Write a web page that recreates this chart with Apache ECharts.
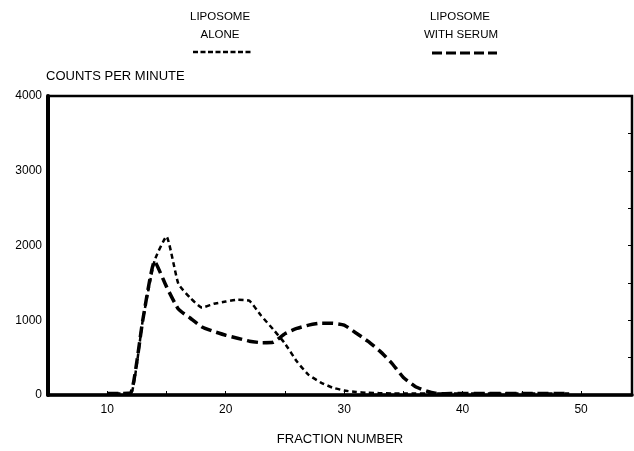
<!DOCTYPE html>
<html>
<head>
<meta charset="utf-8">
<script src="https://cdn.jsdelivr.net/npm/echarts@6/dist/echarts.min.js"></script>
<style>
  html, body { margin: 0; padding: 0; background: #fff; }
  #chart { width: 634px; height: 451px; }
</style>
</head>
<body>
<div id="chart"></div>
<script>
// fraction numbers
var fractions = [10, 11, 12, 13, 14, 15, 16, 17, 18, 19, 20, 21, 22, 23, 24, 25, 26, 27, 28, 29,
  30, 31, 32, 33, 34, 35, 36, 37, 38, 39, 40, 41, 42, 43, 44, 45, 46, 47, 48, 49];
// liposome alone (dotted)
var aloneCounts = [20, 20, 20, 1000, 1800, 2120, 1490, 1300, 1170, 1220, 1250, 1275, 1260, 1060, 880, 690, 450, 270, 170, 100,
  60, 40, 30, 25, 20, 20, 20, 20, 20, 20, 20, 20, 20, 20, 20, 20, 20, 20, 20, 20];
// liposome with serum (dashed)
var serumCounts = [20, 20, 30, 1000, 1790, 1450, 1150, 1030, 910, 850, 800, 760, 720, 700, 705, 820, 890, 935, 960, 960,
  935, 830, 720, 590, 430, 235, 115, 50, 15, 20, 20, 20, 20, 20, 20, 20, 20, 20, 20, 20];
var xTicks = [10, 20, 30, 40, 50];
var yTicks = [0, 1000, 2000, 3000, 4000];

var font = 'Liberation Sans, Arial, sans-serif';

function pairs(ys) {
  return fractions.map(function (f, i) { return [f, ys[i]]; });
}

var chart = echarts.init(document.getElementById('chart'), null, { renderer: 'canvas' });

var option = {
  backgroundColor: '#fff',
  animation: false,
  textStyle: { fontFamily: font, color: '#000' },
  grid: {
    left: 48, top: 96, right: 2, bottom: 52,
    show: true, borderColor: '#000', borderWidth: 2.5
  },
  xAxis: {
    type: 'value',
    min: 5, max: 54.3, interval: 5,
    name: 'FRACTION NUMBER',
    nameLocation: 'middle',
    nameGap: 38,
    nameTextStyle: { fontFamily: font, fontSize: 13, color: '#000' },
    splitLine: { show: false },
    axisLine: { lineStyle: { color: '#000', width: 3.5 } },
    axisTick: { inside: true, length: 4, lineStyle: { color: '#000', width: 1 } },
    axisLabel: {
      fontFamily: font, fontSize: 12, color: '#000', margin: 9,
      showMaxLabel: false,
      formatter: function (v) { return xTicks.indexOf(v) >= 0 ? v : ''; }
    }
  },
  yAxis: [{
    type: 'value',
    min: 0, max: 4000, interval: 500,
    name: 'COUNTS PER MINUTE',
    nameLocation: 'end',
    nameGap: 13,
    nameTextStyle: { fontFamily: font, fontSize: 13, color: '#000', align: 'left', padding: [0, 0, 0, -2] },
    splitLine: { show: false },
    axisLine: { show: true, lineStyle: { color: '#000', width: 4 } },
    axisTick: { show: false },
    axisLabel: {
      fontFamily: font, fontSize: 12, color: '#000', margin: 6,
      formatter: function (v) { return yTicks.indexOf(v) >= 0 ? v : ''; }
    }
  }, {
    type: 'value',
    position: 'right',
    min: 0, max: 4000, interval: 500,
    splitLine: { show: false },
    axisLine: { show: false },
    axisTick: { show: true, inside: true, length: 4, lineStyle: { color: '#000', width: 1 } },
    axisLabel: { show: false }
  }],
  graphic: [
    { type: 'text', left: 190, top: 11, style: { text: 'LIPOSOME', fontFamily: font, fontSize: 11.5, fill: '#000', width: 62, align: 'center' } },
    { type: 'text', x: 220, y: 35, style: { text: 'ALONE', fontFamily: font, fontSize: 11.5, fill: '#000', align: 'center', verticalAlign: 'middle' } },
    { type: 'line', shape: { x1: 193, y1: 52, x2: 253, y2: 52 }, style: { stroke: '#000', lineWidth: 2.5, lineDash: [5, 2.5] } },
    { type: 'text', x: 460, y: 17, style: { text: 'LIPOSOME', fontFamily: font, fontSize: 11.5, fill: '#000', align: 'center', verticalAlign: 'middle' } },
    { type: 'text', x: 461, y: 35, style: { text: 'WITH SERUM', fontFamily: font, fontSize: 11.5, fill: '#000', align: 'center', verticalAlign: 'middle' } },
    { type: 'line', shape: { x1: 432, y1: 53, x2: 497, y2: 53 }, style: { stroke: '#000', lineWidth: 3, lineDash: [10, 4] } }
  ],
  series: [{
    name: 'LIPOSOME ALONE',
    type: 'line',
    data: pairs(aloneCounts),
    showSymbol: false,
    smooth: 0.15,
    lineStyle: { color: '#000', width: 2.5, type: [5, 3.5] }
  }, {
    name: 'LIPOSOME WITH SERUM',
    type: 'line',
    data: pairs(serumCounts),
    showSymbol: false,
    smooth: 0.15,
    lineStyle: { color: '#000', width: 3.5, type: [11, 5] }
  }]
};

chart.setOption(option);
</script>
</body>
</html>
